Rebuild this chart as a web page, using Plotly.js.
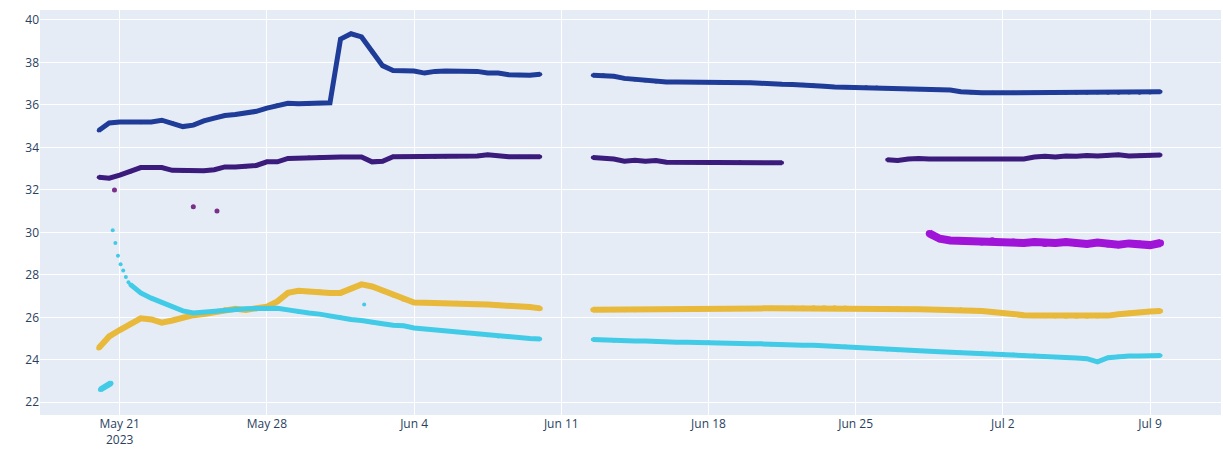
<!DOCTYPE html>
<html>
<head>
<meta charset="utf-8">
<script src="https://cdn.plot.ly/plotly-3.0.1.min.js"></script>
<style>
  html, body { margin: 0; padding: 0; background: #fff; }
  #chart { width: 1223px; height: 455px; }
</style>
</head>
<body>
<div id="chart"></div>
<script>
// Readings sampled every 12 hours; each run starts at the date given next to it.
const HALF_DAY = 12 * 3600 * 1000;

// Top series (blue)
const blueStart1 = '2023-05-20 00:00';
const blue1 = [34.8, 35.15, 35.2, 35.2, 35.18, 35.2, 35.28, 35.15, 34.98, 35.05, 35.25, 35.38,
  35.5, 35.55, 35.62, 35.7, 35.85, 35.98, 36.08, 36.05, 36.05, 36.08, 36.1, 39.1,
  39.35, 39.2, 38.5, 37.85, 37.62, 37.6, 37.6, 37.5, 37.58, 37.6, 37.6, 37.6,
  37.58, 37.5, 37.5, 37.42, 37.4, 37.4, 37.45];
const blueStart2 = '2023-06-12 12:00';
const blue2 = [37.4, 37.4, 37.35, 37.25, 37.2, 37.15, 37.1, 37.08, 37.08, 37.08, 37.07, 37.07,
  37.06, 37.06, 37.05, 37.05, 37.02, 36.98, 36.97, 36.96, 36.95, 36.92, 36.88, 36.85,
  36.84, 36.83, 36.83, 36.82, 36.8, 36.75, 36.74, 36.74, 36.73, 36.72, 36.7, 36.62, 36.58,
  36.57, 36.57, 36.57, 36.57, 36.57, 36.57, 36.57, 36.58, 36.57, 36.57, 36.57, 36.58,
  36.57, 36.57, 36.58, 36.57, 36.58, 36.62];

// Second series (indigo)
const indigoStart1 = '2023-05-20 00:00';
const indigo1 = [32.6, 32.55, 32.7, 32.85, 33.05, 33.05, 33.05, 32.92, 32.9, 32.9, 32.9, 32.95,
  33.08, 33.08, 33.1, 33.15, 33.32, 33.32, 33.48, 33.5, 33.52, 33.55, 33.55, 33.55,
  33.55, 33.55, 33.32, 33.35, 33.56, 33.56, 33.56, 33.56, 33.56, 33.57, 33.58, 33.58,
  33.6, 33.65, 33.6, 33.56, 33.56, 33.56, 33.56];
const indigoStart2 = '2023-06-12 12:00';
const indigo2 = [33.52, 33.5, 33.45, 33.35, 33.4, 33.35, 33.38, 33.3, 33.3, 33.3, 33.29, 33.28,
  33.28, 33.28, 33.3, 33.28, 33.28, 33.28, 33.28];
const indigoStart3 = '2023-06-26 12:00';
const indigo3 = [33.42, 33.38, 33.45, 33.48, 33.45, 33.45, 33.45, 33.46, 33.46,
  33.45, 33.46, 33.45, 33.46, 33.46, 33.55, 33.58, 33.55, 33.6, 33.58, 33.62, 33.6,
  33.62, 33.65, 33.6, 33.62, 33.62, 33.64];

// Isolated readings
const strayTimes = ['2023-05-20 18:00', '2023-05-24 12:00', '2023-05-25 15:00'];
const strayValues = [32.0, 31.2, 31.0];

// Violet series (late start)
const violetStart = '2023-06-28 12:00';
const violet = [29.95, 29.7, 29.62, 29.6, 29.58, 29.55, 29.6, 29.52, 29.55, 29.5, 29.55, 29.48,
  29.5, 29.55, 29.48, 29.45, 29.52, 29.45, 29.42, 29.48, 29.45, 29.4, 29.5];

// Gold series
const goldStart1 = '2023-05-20 00:00';
const gold1 = [24.55, 25.1, 25.4, 25.7, 25.95, 25.9, 25.75, 25.85, 26.0, 26.1, 26.15, 26.25,
  26.35, 26.4, 26.35, 26.4, 26.5, 26.75, 27.15, 27.25, 27.2, 27.2, 27.15, 27.15,
  27.35, 27.55, 27.45, 27.25, 27.05, 26.85, 26.7, 26.68, 26.68, 26.66, 26.66, 26.65,
  26.62, 26.6, 26.58, 26.55, 26.52, 26.48, 26.42];
const goldStart2 = '2023-06-12 12:00';
const gold2 = [26.35, 26.35, 26.35, 26.36, 26.36, 26.37, 26.37, 26.38, 26.38, 26.38, 26.39, 26.4,
  26.4, 26.4, 26.41, 26.42, 26.42, 26.43, 26.43, 26.44, 26.44, 26.45, 26.45, 26.45,
  26.44, 26.42, 26.4, 26.4, 26.4, 26.4, 26.38, 26.38, 26.37, 26.37, 26.36, 26.35, 26.33,
  26.3, 26.25, 26.18, 26.12, 26.1, 26.08, 26.07, 26.06, 26.05, 26.05, 26.05, 26.06,
  26.08, 26.14, 26.2, 26.24, 26.27, 26.3];

// Cyan series
const cyanLowStart = '2023-05-20 02:00';
const cyanLow = [22.6, 22.7, 22.8, 22.9];           // every 4 hours
const cyanHeadStart = '2023-05-20 16:00';
const cyanHead = [30.1, 29.5, 28.9, 28.5, 28.2, 27.9, 27.65]; // every 3 hours
const cyanStart1 = '2023-05-21 12:00';
const cyan1 = [27.55, 27.15, 26.9, 26.7, 26.5, 26.3, 26.2, 26.25, 26.3, 26.35, 26.4, 26.4,
  26.42, 26.43, 26.43, 26.35, 26.25, 26.2, 26.15, 26.05, 26.0, 25.9, 25.85, 25.75,
  25.7, 25.63, 25.6, 25.5, 25.45, 25.4, 25.35, 25.3, 25.25, 25.2, 25.15, 25.1, 25.1,
  25.05, 25.0, 24.98];
const cyanStart2 = '2023-06-12 12:00';
const cyan2 = [24.95, 24.92, 24.9, 24.9, 24.88, 24.88, 24.85, 24.85, 24.82, 24.82, 24.8, 24.82,
  24.8, 24.78, 24.78, 24.75, 24.75, 24.72, 24.72, 24.7, 24.68, 24.68, 24.65, 24.65,
  24.62, 24.6, 24.55, 24.5, 24.48, 24.45, 24.45, 24.42, 24.4, 24.38, 24.36, 24.34, 24.33,
  24.32, 24.3, 24.28, 24.25, 24.22, 24.2, 24.17, 24.12, 24.1, 24.08, 24.05, 23.9,
  24.1, 24.15, 24.18, 24.18, 24.18, 24.2];
const cyanStrayTimes = ['2023-06-01 15:00'];
const cyanStrayValues = [26.6];

const COLORS = {
  blue: '#1f3c98',
  indigo: '#3b1b7c',
  stray: '#7a2f88',
  violet: '#a014d8',
  gold: '#e8b93a',
  cyan: '#42cbe6'
};

// A continuous run of regularly spaced readings.
function run(start, values, color, width, step) {
  return {
    type: 'scatter', mode: 'lines+markers',
    x0: start, dx: step || HALF_DAY, y: values,
    line: { color: color, width: width },
    marker: { color: color, size: width - 1 },
    showlegend: false
  };
}
// Regularly spaced readings drawn as separate dots.
function dotRun(start, values, color, size, step) {
  return {
    type: 'scatter', mode: 'markers',
    x0: start, dx: step, y: values,
    marker: { color: color, size: size }, showlegend: false
  };
}
// Single readings at given times.
function dots(times, values, color, size) {
  return {
    type: 'scatter', mode: 'markers', x: times, y: values,
    marker: { color: color, size: size }, showlegend: false
  };
}

const traces = [
  run(goldStart1, gold1, COLORS.gold, 6),
  run(goldStart2, gold2, COLORS.gold, 6),
  run(cyanLowStart, cyanLow, COLORS.cyan, 6, 4 * 3600 * 1000),
  dotRun(cyanHeadStart, cyanHead, COLORS.cyan, 4, 3 * 3600 * 1000),
  run(cyanStart1, cyan1, COLORS.cyan, 5),
  run(cyanStart2, cyan2, COLORS.cyan, 5),
  dots(cyanStrayTimes, cyanStrayValues, COLORS.cyan, 4),
  run(blueStart1, blue1, COLORS.blue, 5),
  run(blueStart2, blue2, COLORS.blue, 5),
  run(indigoStart1, indigo1, COLORS.indigo, 5),
  run(indigoStart2, indigo2, COLORS.indigo, 5),
  run(indigoStart3, indigo3, COLORS.indigo, 5),
  dots(strayTimes, strayValues, COLORS.stray, 5),
  run(violetStart, violet, COLORS.violet, 8)
];

const layout = {
  width: 1223, height: 455,
  margin: { l: 40, r: 2, t: 10, b: 40 },
  paper_bgcolor: '#ffffff',
  plot_bgcolor: '#E5ECF6',
  font: { family: 'Open Sans, Verdana, Arial, sans-serif', size: 12, color: '#2a3f5f' },
  showlegend: false,
  xaxis: {
    type: 'date',
    range: ['2023-05-17 05:00', '2023-07-12 09:00'],
    tick0: '2023-05-21', dtick: 7 * 86400000,
    gridcolor: '#ffffff', gridwidth: 1,
    zeroline: false, showline: false, ticks: ''
  },
  yaxis: {
    range: [21.4, 40.47],
    tick0: 0, dtick: 2,
    gridcolor: '#ffffff', gridwidth: 1,
    zeroline: false, showline: false, ticks: ''
  }
};

Plotly.newPlot('chart', traces, layout, { displayModeBar: false, staticPlot: true });
</script>
</body>
</html>
